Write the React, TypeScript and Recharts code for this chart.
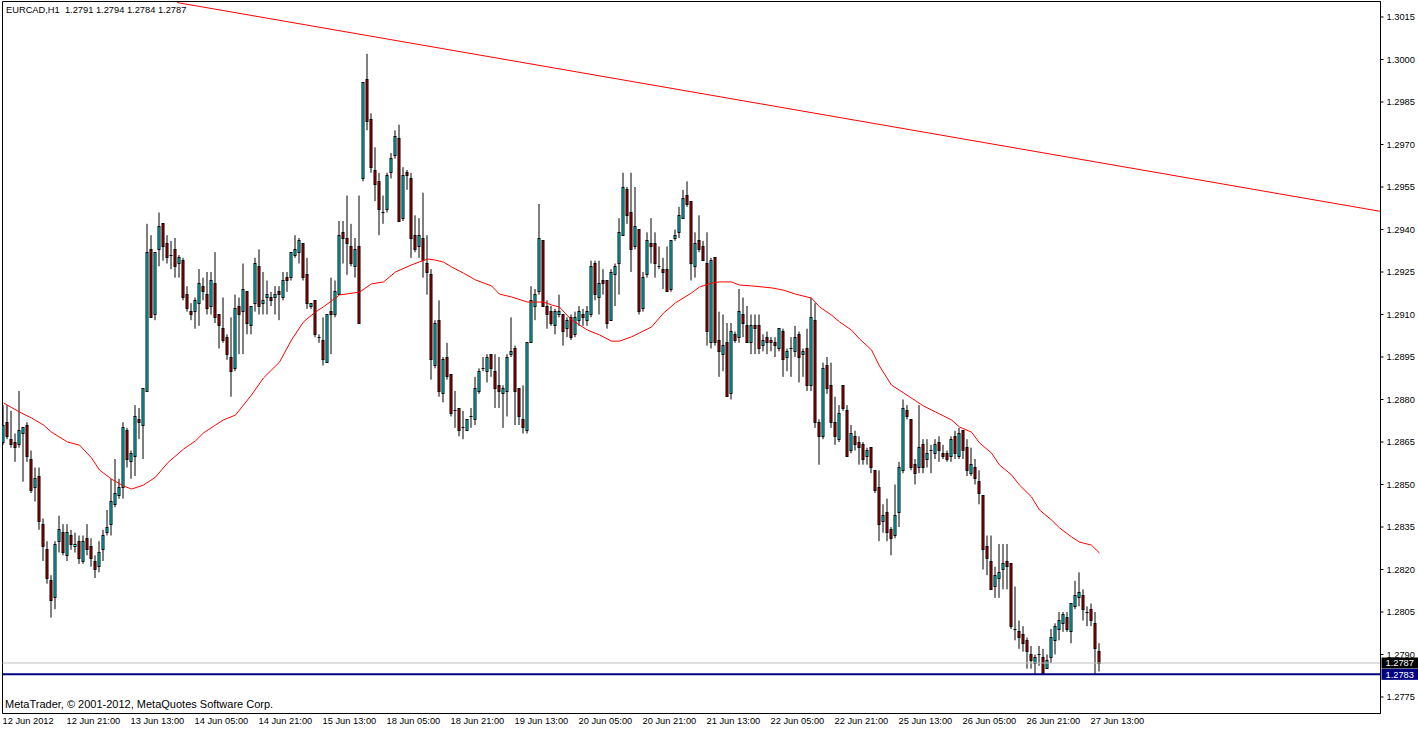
import React from 'react';
import { ComposedChart, Bar, Line, XAxis, YAxis, ReferenceLine, ReferenceArea } from 'recharts';

const FONT = '"Liberation Sans", Arial, sans-serif';
const BULL = '#00FFFF';
const BEAR = '#D00000';

// EURCAD H1, one value per hourly bar, 12 Jun 05:00 .. 27 Jun 15:00
const open = [
  1.2865, 1.2872, 1.2866, 1.2865, 1.2864, 1.2868, 1.2871, 1.2859, 1.2849, 1.2853,
  1.2836, 1.2827, 1.2816, 1.2810, 1.2830, 1.2833, 1.2825, 1.2832, 1.2828, 1.2830,
  1.2823, 1.2831, 1.2828, 1.2823, 1.2821, 1.2827, 1.2833, 1.2836, 1.2843, 1.2846,
  1.2849, 1.2869, 1.2858, 1.2860, 1.2873, 1.2871, 1.2883, 1.2933, 1.2910, 1.2933,
  1.2942, 1.2935, 1.2931, 1.2933, 1.2928, 1.2929, 1.2917, 1.2911, 1.2911, 1.2914,
  1.2920, 1.2917, 1.2913, 1.2921, 1.2910, 1.2905, 1.2902, 1.2895, 1.2891, 1.2913,
  1.2911, 1.2918, 1.2906, 1.2914, 1.2927, 1.2914, 1.2916, 1.2916, 1.2916, 1.2918,
  1.2916, 1.2923, 1.2923, 1.2931, 1.2932, 1.2935, 1.2924, 1.2913, 1.2915, 1.2902,
  1.2901, 1.2893, 1.2911, 1.2910, 1.2917, 1.2939, 1.2937, 1.2934, 1.2927, 1.2934,
  1.2958, 1.2993, 1.2979, 1.2961, 1.2957, 1.2946, 1.2947, 1.2960, 1.2966, 1.2972,
  1.2944, 1.2960, 1.2958, 1.2938, 1.2934, 1.2937, 1.2928, 1.2924, 1.2892, 1.2908,
  1.2882, 1.2895, 1.2889, 1.2876, 1.2877, 1.2870, 1.2869, 1.2874, 1.2873, 1.2883,
  1.2891, 1.2890, 1.2896, 1.2890, 1.2885, 1.2882, 1.2883, 1.2896, 1.2898, 1.2884,
  1.2873, 1.2869, 1.2900, 1.2913, 1.2918, 1.2936, 1.2913, 1.2911, 1.2906, 1.2910,
  1.2910, 1.2905, 1.2909, 1.2903, 1.2908, 1.2910, 1.2908, 1.2910, 1.2928, 1.2916,
  1.2922, 1.2922, 1.2908, 1.2924, 1.2928, 1.2938, 1.2954, 1.2946, 1.2934, 1.2940,
  1.2912, 1.2924, 1.2935, 1.2935, 1.2927, 1.2926, 1.2926, 1.2919, 1.2937, 1.2939,
  1.2944, 1.2952, 1.2950, 1.2927, 1.2936, 1.2934, 1.2928, 1.2900, 1.2930, 1.2901,
  1.2896, 1.2900, 1.2882, 1.2903, 1.2902, 1.2910, 1.2906, 1.2900, 1.2906, 1.2906,
  1.2899, 1.2902, 1.2901, 1.2900, 1.2898, 1.2904, 1.2895, 1.2898, 1.2897, 1.2903,
  1.2896, 1.2898, 1.2885, 1.2908, 1.2872, 1.2867, 1.2892, 1.2885, 1.2872, 1.2866,
  1.2885, 1.2876, 1.2862, 1.2867, 1.2865, 1.2864, 1.2860, 1.2863, 1.2855, 1.2849,
  1.2837, 1.2840, 1.2834, 1.2832, 1.2840, 1.2855, 1.2876, 1.2873, 1.2857, 1.2856,
  1.2864, 1.2859, 1.2862, 1.2861, 1.2865, 1.2861, 1.2861, 1.2860, 1.2867, 1.2860,
  1.2869, 1.2863, 1.2854, 1.2856, 1.2851, 1.2846, 1.2828, 1.2823, 1.2814, 1.2817,
  1.2820, 1.2823, 1.2822, 1.2799, 1.2798, 1.2797, 1.2795, 1.2790, 1.2787, 1.2790,
  1.2789, 1.2785, 1.2789, 1.2795, 1.2799, 1.2801, 1.2803, 1.2798, 1.2807, 1.2810,
  1.2811, 1.2805, 1.2806, 1.2801, 1.2791,
];

const high = [
  1.2878, 1.2878, 1.2876, 1.2868, 1.2883, 1.2870, 1.2872, 1.2862, 1.2856, 1.2856,
  1.2838, 1.2830, 1.2818, 1.2830, 1.2839, 1.2836, 1.2836, 1.2834, 1.2833, 1.2832,
  1.2832, 1.2836, 1.2831, 1.2825, 1.2830, 1.2834, 1.2841, 1.2852, 1.2859, 1.2852,
  1.2872, 1.2870, 1.2862, 1.2878, 1.2877, 1.2884, 1.2942, 1.2938, 1.2932, 1.2946,
  1.2942, 1.2938, 1.2936, 1.2937, 1.2931, 1.2930, 1.2920, 1.2914, 1.2916, 1.2926,
  1.2923, 1.2925, 1.2925, 1.2932, 1.2910, 1.2916, 1.2903, 1.2909, 1.2917, 1.2916,
  1.2928, 1.2918, 1.2913, 1.2930, 1.2933, 1.2925, 1.2922, 1.2918, 1.2920, 1.2920,
  1.2925, 1.2925, 1.2932, 1.2938, 1.2937, 1.2935, 1.2930, 1.2914, 1.2915, 1.2903,
  1.2909, 1.2910, 1.2923, 1.2922, 1.2943, 1.2943, 1.2952, 1.2942, 1.2937, 1.2952,
  1.2992, 1.3002, 1.2981, 1.2969, 1.2960, 1.2952, 1.2960, 1.2967, 1.2975, 1.2977,
  1.2962, 1.2961, 1.2960, 1.2945, 1.2944, 1.2953, 1.2938, 1.2926, 1.2908, 1.2915,
  1.2895, 1.2900, 1.2889, 1.2883, 1.2877, 1.2876, 1.2873, 1.2877, 1.2888, 1.2891,
  1.2895, 1.2896, 1.2896, 1.2896, 1.2895, 1.2885, 1.2896, 1.2909, 1.2899, 1.2884,
  1.2885, 1.2900, 1.2920, 1.2919, 1.2949, 1.2936, 1.2915, 1.2913, 1.2912, 1.2917,
  1.2910, 1.2909, 1.2910, 1.2911, 1.2913, 1.2912, 1.2913, 1.2929, 1.2929, 1.2929,
  1.2926, 1.2922, 1.2926, 1.2928, 1.2944, 1.2960, 1.2955, 1.2960, 1.2955, 1.2940,
  1.2925, 1.2939, 1.2944, 1.2939, 1.2934, 1.2930, 1.2934, 1.2936, 1.2940, 1.2948,
  1.2954, 1.2957, 1.2950, 1.2939, 1.2945, 1.2936, 1.2939, 1.2930, 1.2930, 1.2911,
  1.2910, 1.2907, 1.2907, 1.2904, 1.2919, 1.2916, 1.2913, 1.2910, 1.2910, 1.2910,
  1.2903, 1.2904, 1.2902, 1.2902, 1.2905, 1.2905, 1.2898, 1.2902, 1.2906, 1.2904,
  1.2898, 1.2905, 1.2916, 1.2914, 1.2873, 1.2893, 1.2895, 1.2893, 1.2881, 1.2878,
  1.2885, 1.2878, 1.2871, 1.2869, 1.2867, 1.2865, 1.2863, 1.2863, 1.2855, 1.2855,
  1.2843, 1.2845, 1.2835, 1.2850, 1.2858, 1.2880, 1.2878, 1.2873, 1.2859, 1.2878,
  1.2866, 1.2866, 1.2864, 1.2866, 1.2867, 1.2864, 1.2862, 1.2867, 1.2869, 1.2870,
  1.2869, 1.2866, 1.2863, 1.2859, 1.2855, 1.2846, 1.2832, 1.2832, 1.2821, 1.2829,
  1.2829, 1.2829, 1.2822, 1.2814, 1.2802, 1.2800, 1.2796, 1.2793, 1.2790, 1.2793,
  1.2792, 1.2790, 1.2799, 1.2801, 1.2805, 1.2805, 1.2805, 1.2808, 1.2816, 1.2819,
  1.2813, 1.2807, 1.2808, 1.2805, 1.2794,
];

const low = [
  1.2864, 1.2866, 1.2863, 1.2858, 1.2863, 1.2851, 1.2858, 1.2847, 1.2844, 1.2834,
  1.2823, 1.2815, 1.2803, 1.2806, 1.2826, 1.2825, 1.2823, 1.2827, 1.2826, 1.2822,
  1.2822, 1.2825, 1.2821, 1.2817, 1.2819, 1.2823, 1.2832, 1.2832, 1.2842, 1.2845,
  1.2845, 1.2856, 1.2852, 1.2853, 1.2866, 1.2859, 1.2883, 1.2909, 1.2908, 1.2927,
  1.2929, 1.2928, 1.2926, 1.2923, 1.2923, 1.2915, 1.2911, 1.2908, 1.2905, 1.2906,
  1.2915, 1.2910, 1.2910, 1.2907, 1.2898, 1.2900, 1.2894, 1.2881, 1.2890, 1.2896,
  1.2896, 1.2903, 1.2903, 1.2911, 1.2910, 1.2910, 1.2910, 1.2913, 1.2910, 1.2908,
  1.2915, 1.2918, 1.2922, 1.2930, 1.2928, 1.2922, 1.2912, 1.2912, 1.2902, 1.2900,
  1.2892, 1.2893, 1.2896, 1.2909, 1.2917, 1.2928, 1.2924, 1.2927, 1.2923, 1.2907,
  1.2957, 1.2975, 1.2960, 1.2950, 1.2938, 1.2942, 1.2946, 1.2958, 1.2965, 1.2943,
  1.2943, 1.2954, 1.2930, 1.2932, 1.2930, 1.2923, 1.2917, 1.2887, 1.2891, 1.2881,
  1.2879, 1.2887, 1.2874, 1.2870, 1.2867, 1.2866, 1.2869, 1.2870, 1.2871, 1.2882,
  1.2890, 1.2886, 1.2888, 1.2877, 1.2877, 1.2870, 1.2874, 1.2895, 1.2871, 1.2871,
  1.2868, 1.2868, 1.2900, 1.2908, 1.2917, 1.2913, 1.2905, 1.2906, 1.2903, 1.2909,
  1.2899, 1.2902, 1.2901, 1.2902, 1.2906, 1.2906, 1.2906, 1.2909, 1.2915, 1.2910,
  1.2917, 1.2905, 1.2908, 1.2913, 1.2917, 1.2938, 1.2942, 1.2925, 1.2933, 1.2910,
  1.2911, 1.2923, 1.2928, 1.2923, 1.2926, 1.2919, 1.2918, 1.2918, 1.2936, 1.2937,
  1.2944, 1.2948, 1.2922, 1.2923, 1.2932, 1.2929, 1.2899, 1.2898, 1.2899, 1.2888,
  1.2890, 1.2881, 1.2880, 1.2900, 1.2900, 1.2902, 1.2900, 1.2896, 1.2896, 1.2896,
  1.2897, 1.2896, 1.2897, 1.2895, 1.2897, 1.2888, 1.2890, 1.2888, 1.2895, 1.2886,
  1.2888, 1.2883, 1.2883, 1.2870, 1.2857, 1.2866, 1.2882, 1.2870, 1.2864, 1.2865,
  1.2876, 1.2860, 1.2861, 1.2862, 1.2857, 1.2857, 1.2857, 1.2854, 1.2847, 1.2830,
  1.2833, 1.2830, 1.2825, 1.2831, 1.2835, 1.2854, 1.2873, 1.2855, 1.2850, 1.2854,
  1.2854, 1.2856, 1.2854, 1.2859, 1.2858, 1.2859, 1.2858, 1.2858, 1.2859, 1.2859,
  1.2859, 1.2853, 1.2853, 1.2850, 1.2843, 1.2820, 1.2818, 1.2813, 1.2810, 1.2810,
  1.2813, 1.2813, 1.2799, 1.2795, 1.2792, 1.2791, 1.2785, 1.2785, 1.2783, 1.2786,
  1.2783, 1.2785, 1.2787, 1.2790, 1.2795, 1.2798, 1.2798, 1.2794, 1.2806, 1.2807,
  1.2802, 1.2800, 1.2800, 1.2783, 1.2784,
];

const close = [
  1.2871, 1.2867, 1.2864, 1.2863, 1.2869, 1.2870, 1.2860, 1.2848, 1.2852, 1.2837,
  1.2828, 1.2817, 1.2809, 1.2829, 1.2834, 1.2826, 1.2833, 1.2829, 1.2829, 1.2824,
  1.2830, 1.2827, 1.2824, 1.2820, 1.2826, 1.2832, 1.2835, 1.2844, 1.2847, 1.2849,
  1.2870, 1.2859, 1.2861, 1.2874, 1.2872, 1.2884, 1.2932, 1.2909, 1.2932, 1.2941,
  1.2934, 1.2930, 1.2931, 1.2927, 1.2930, 1.2916, 1.2912, 1.2910, 1.2915, 1.2921,
  1.2918, 1.2912, 1.2922, 1.2909, 1.2906, 1.2901, 1.2896, 1.2890, 1.2912, 1.2910,
  1.2919, 1.2907, 1.2913, 1.2928, 1.2913, 1.2915, 1.2917, 1.2915, 1.2917, 1.2917,
  1.2922, 1.2922, 1.2932, 1.2933, 1.2936, 1.2923, 1.2914, 1.2914, 1.2903, 1.2902,
  1.2894, 1.2910, 1.2910, 1.2918, 1.2938, 1.2937, 1.2935, 1.2928, 1.2933, 1.2907,
  1.2992, 1.2978, 1.2962, 1.2956, 1.2947, 1.2946, 1.2959, 1.2965, 1.2973, 1.2943,
  1.2959, 1.2959, 1.2937, 1.2933, 1.2938, 1.2929, 1.2925, 1.2894, 1.2907, 1.2883,
  1.2894, 1.2888, 1.2875, 1.2876, 1.2869, 1.2870, 1.2873, 1.2874, 1.2884, 1.2890,
  1.2891, 1.2895, 1.2891, 1.2884, 1.2883, 1.2884, 1.2895, 1.2897, 1.2883, 1.2874,
  1.2870, 1.2900, 1.2915, 1.2917, 1.2937, 1.2913, 1.2910, 1.2907, 1.2911, 1.2911,
  1.2904, 1.2908, 1.2902, 1.2909, 1.2911, 1.2909, 1.2911, 1.2927, 1.2917, 1.2921,
  1.2921, 1.2907, 1.2925, 1.2927, 1.2939, 1.2955, 1.2945, 1.2933, 1.2941, 1.2911,
  1.2923, 1.2936, 1.2934, 1.2928, 1.2927, 1.2925, 1.2918, 1.2936, 1.2938, 1.2945,
  1.2951, 1.2949, 1.2928, 1.2935, 1.2933, 1.2929, 1.2904, 1.2929, 1.2900, 1.2897,
  1.2899, 1.2881, 1.2904, 1.2901, 1.2911, 1.2907, 1.2900, 1.2906, 1.2905, 1.2898,
  1.2901, 1.2900, 1.2900, 1.2899, 1.2905, 1.2894, 1.2897, 1.2898, 1.2902, 1.2895,
  1.2897, 1.2885, 1.2909, 1.2872, 1.2867, 1.2891, 1.2884, 1.2872, 1.2867, 1.2875,
  1.2877, 1.2860, 1.2868, 1.2864, 1.2863, 1.2859, 1.2862, 1.2856, 1.2848, 1.2836,
  1.2839, 1.2833, 1.2831, 1.2839, 1.2856, 1.2877, 1.2874, 1.2856, 1.2854, 1.2863,
  1.2856, 1.2861, 1.2862, 1.2864, 1.2862, 1.2860, 1.2859, 1.2866, 1.2861, 1.2868,
  1.2862, 1.2855, 1.2857, 1.2852, 1.2847, 1.2827, 1.2824, 1.2813, 1.2818, 1.2819,
  1.2822, 1.2821, 1.2800, 1.2799, 1.2796, 1.2794, 1.2791, 1.2788, 1.2789, 1.2790,
  1.2783, 1.2788, 1.2796, 1.2800, 1.2802, 1.2804, 1.2799, 1.2808, 1.2811, 1.2812,
  1.2806, 1.2805, 1.2802, 1.2792, 1.2787,
];

// moving average at these bars
const maBars = [
  0, 4, 7, 10, 12, 16, 19, 22, 24, 27, 30, 32, 35, 38, 41, 45, 48, 50, 53, 55,
  58, 62, 65, 69, 72, 75, 78, 80, 84, 89, 92, 95, 98, 102, 106, 108, 110, 112, 115, 118,
  122, 124, 127, 131, 135, 137, 139, 142, 146, 149, 152, 154, 157, 159, 162, 165, 168, 172, 174, 177,
  179, 182, 184, 187, 192, 195, 198, 202, 204, 207, 209, 212, 214, 217, 219, 222, 227, 230, 233, 237,
  239, 242, 244, 247, 249, 252, 254, 257, 259, 262, 264, 267, 269, 272, 274,
];
const maValues = [
  1.28788, 1.28756, 1.28735, 1.2871, 1.28685, 1.2865, 1.28639, 1.28594, 1.28551, 1.28519,
  1.28495, 1.28484, 1.28498, 1.28526, 1.28576, 1.28625, 1.28654, 1.28682, 1.2871, 1.28728,
  1.28745, 1.28816, 1.28876, 1.28932, 1.2901, 1.29074, 1.29109, 1.29127, 1.29169, 1.29179,
  1.29208, 1.29215, 1.2925, 1.29275, 1.29296, 1.29292, 1.29285, 1.29268, 1.29246, 1.29222,
  1.29201, 1.29172, 1.29162, 1.29144, 1.29144, 1.29134, 1.29126, 1.29081, 1.29045, 1.29028,
  1.29006, 1.29006, 1.29021, 1.29035, 1.29056, 1.29105, 1.29141, 1.29176, 1.29197, 1.29211,
  1.29215, 1.29215, 1.29204, 1.29201, 1.29194, 1.29186, 1.29172, 1.29158, 1.29127, 1.29098,
  1.29074, 1.29045, 1.29014, 1.28975, 1.28918, 1.28851, 1.28805, 1.28777, 1.28756, 1.28728,
  1.28703, 1.28685, 1.28647, 1.28611, 1.28569, 1.28534, 1.28498, 1.28456, 1.2841, 1.28375,
  1.28347, 1.28315, 1.28297, 1.28286, 1.28258,
];

// hand-drawn trend line (bar index, price)
const trendBars = [43.4, 344.25];
const trendPrices = [1.30201, 1.29464];

const timeTickBars = [0, 16, 32, 48, 64, 80, 96, 112, 128, 144, 160, 176, 192, 208, 224, 240, 256, 272];
const timeLabels = [
  '12 Jun 2012', '12 Jun 21:00', '13 Jun 13:00', '14 Jun 05:00', '14 Jun 21:00', '15 Jun 13:00',
  '18 Jun 05:00', '18 Jun 21:00', '19 Jun 13:00', '20 Jun 05:00', '20 Jun 21:00', '21 Jun 13:00',
  '22 Jun 05:00', '22 Jun 21:00', '25 Jun 13:00', '26 Jun 05:00', '26 Jun 21:00', '27 Jun 13:00',
];
const priceTicks = [
  1.3015, 1.3, 1.2985, 1.297, 1.2955, 1.294, 1.2925, 1.291, 1.2895,
  1.288, 1.2865, 1.285, 1.2835, 1.282, 1.2805, 1.279, 1.2775,
];
const bidPrice = 1.2787;
const levelPrice = 1.2783;

const X_DOMAIN: [number, number] = [-0.25, 344.25];
const Y_DOMAIN: [number, number] = [1.276918, 1.302047];

const data = open.map((o, i) => {
  const k = maBars.indexOf(i);
  return {
    i,
    o,
    h: high[i],
    l: low[i],
    c: close[i],
    range: [low[i], high[i]],
    ma: k >= 0 ? maValues[k] : null,
  };
});

const snap = (v: number) => Math.round(v - 0.5) + 0.5;

const Candle = (props: any) => {
  const { x, y, width, height } = props;
  const p = props.payload ?? props;
  if (x == null || y == null || p == null || p.h == null) return null;
  let top = y;
  let h = height;
  if (h < 0) {
    top = y + h;
    h = -h;
  }
  const cx = x + width / 2;
  const span = p.h - p.l;
  const py = (v: number) => (span > 0 ? top + ((p.h - v) / span) * h : top);
  const bTop = snap(py(Math.max(p.o, p.c)));
  const bBot = snap(py(Math.min(p.o, p.c)));
  return (
    <g>
      <line x1={cx} x2={cx} y1={top} y2={top + h} stroke="#000" strokeWidth={1} />
      {bBot - bTop < 1 ? (
        <line x1={cx - 1.5} x2={cx + 1.5} y1={bTop} y2={bTop} stroke="#000" strokeWidth={1} />
      ) : (
        <rect
          x={cx - 1}
          y={bTop}
          width={2}
          height={bBot - bTop}
          fill={p.c > p.o ? BULL : BEAR}
          stroke="#000"
          strokeWidth={1}
        />
      )}
    </g>
  );
};

const TimeTick = (props: any) => {
  const { x, y, payload } = props;
  const k = timeTickBars.indexOf(payload.value);
  return (
    <text x={x - 1} y={y + 10.5} fontSize={9.3} fontFamily={FONT} fill="#000" textAnchor="start">
      {k >= 0 ? timeLabels[k] : ''}
    </text>
  );
};

const PriceTag = (props: any) => {
  const { viewBox, bg, value } = props;
  if (!viewBox) return null;
  const left = viewBox.x + viewBox.width + 1;
  return (
    <g>
      <rect x={left} y={viewBox.y - 5.5} width={37} height={11} fill={bg} />
      <text x={left + 4} y={viewBox.y} dy="0.355em" fontSize={9.3} fontFamily={FONT} fill="#fff">
        {value}
      </text>
    </g>
  );
};

export default function App() {
  return (
    <div style={{ position: 'absolute', left: 0, top: 0, width: 1418, height: 729, background: '#fff' }}>
      <ComposedChart
        width={1418}
        height={729}
        data={data}
        margin={{ top: 1.5, right: 0, bottom: 0, left: 2.5 }}
      >
        <XAxis
          type="number"
          dataKey="i"
          domain={X_DOMAIN}
          allowDataOverflow
          ticks={timeTickBars}
          interval={0}
          height={15.5}
          axisLine={false}
          tickLine={false}
          tickSize={0}
          tickMargin={0}
          tick={(p: any) => <TimeTick {...p} />}
        />
        <YAxis
          orientation="right"
          domain={Y_DOMAIN}
          allowDataOverflow
          ticks={priceTicks}
          interval={0}
          width={37.5}
          tickSize={3}
          tickMargin={3}
          axisLine={{ stroke: '#000' }}
          tickLine={{ stroke: '#000' }}
          tick={{ fontSize: 9.3, fill: '#000', fontFamily: FONT }}
          tickFormatter={(v: number) => v.toFixed(4)}
        />
        <ReferenceArea
          x1={X_DOMAIN[0]}
          x2={X_DOMAIN[1]}
          y1={Y_DOMAIN[0]}
          y2={Y_DOMAIN[1]}
          fill="none"
          fillOpacity={0}
          stroke="#000"
          strokeWidth={1}
        />
        <Bar dataKey="range" barSize={3} shape={Candle} isAnimationActive={false} />
        <Line
          type="linear"
          dataKey="ma"
          stroke="#FF0000"
          strokeWidth={1}
          dot={false}
          activeDot={false}
          connectNulls
          isAnimationActive={false}
        />
        <ReferenceLine
          segment={[
            { x: trendBars[0], y: trendPrices[0] },
            { x: trendBars[1], y: trendPrices[1] },
          ]}
          stroke="#FF0000"
          strokeWidth={1}
        />
        <ReferenceLine
          y={bidPrice}
          stroke="#C0C0C0"
          strokeWidth={1}
          label={<PriceTag bg="#000000" value={bidPrice.toFixed(4)} />}
        />
        <ReferenceLine
          y={levelPrice}
          stroke="#000080"
          strokeWidth={2}
          label={<PriceTag bg="#000080" value={levelPrice.toFixed(4)} />}
        />
      </ComposedChart>
      <div
        style={{
          position: 'absolute',
          left: 6,
          top: 4,
          fontSize: 9.3,
          lineHeight: '12px',
          fontFamily: FONT,
          whiteSpace: 'pre',
          color: '#000',
        }}
      >
        {'EURCAD,H1  1.2791 1.2794 1.2784 1.2787'}
      </div>
      <div
        style={{
          position: 'absolute',
          left: 5,
          top: 698,
          fontSize: 11,
          lineHeight: '12px',
          fontFamily: FONT,
          whiteSpace: 'pre',
          color: '#000',
        }}
      >
        {'MetaTrader, \u00A9 2001-2012, MetaQuotes Software Corp.'}
      </div>
    </div>
  );
}
